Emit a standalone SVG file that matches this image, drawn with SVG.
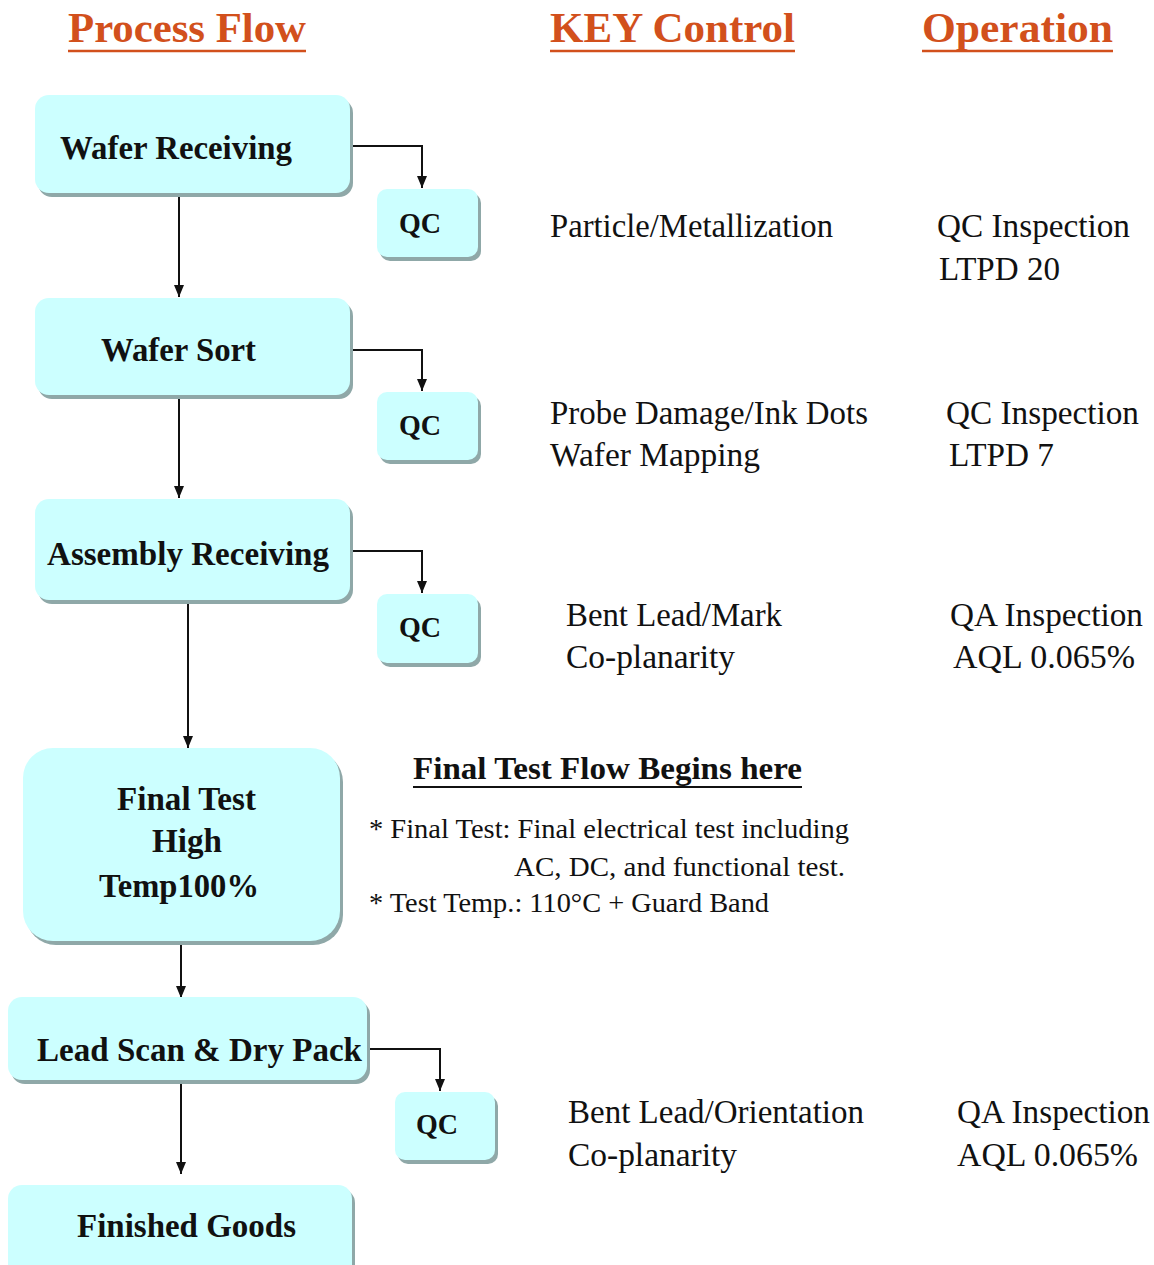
<svg xmlns="http://www.w3.org/2000/svg" width="1154" height="1265" viewBox="0 0 1154 1265">
  <style>
    .title { font-family: "Liberation Serif", "Times New Roman", serif; font-weight: bold; font-size: 43px; fill: #D2501C; }
    .uline-title { stroke: #D2501C; stroke-width: 2.5; }
    .box { fill: #CCFFFF; }
    .shadow { fill: #8FA8A8; }
    .label { font-family: "Liberation Serif", "Times New Roman", serif; font-weight: bold; font-size: 33px; fill: #111; }
    .qc { font-family: "Liberation Serif", "Times New Roman", serif; font-weight: bold; font-size: 30px; fill: #111; }
    .body { font-family: "Liberation Serif", "Times New Roman", serif; font-size: 33px; fill: #111; }
    .note { font-family: "Liberation Serif", "Times New Roman", serif; font-size: 28px; fill: #111; }
    .head { font-family: "Liberation Serif", "Times New Roman", serif; font-weight: bold; font-size: 32px; fill: #111; }
    .conn { fill: none; stroke: #111; stroke-width: 2; marker-end: url(#arrow); }
  </style>
  <defs>
    <marker id="arrow" viewBox="0 0 12 10" refX="12" refY="5" markerWidth="12" markerHeight="10" markerUnits="userSpaceOnUse" orient="auto">
      <path d="M0,0 L12,5 L0,10 Z" fill="#111"/>
    </marker>
  </defs>

  <rect width="1154" height="1265" fill="#FFFFFF"/>

  <!-- column headings -->
  <g id="headings">
    <text class="title" x="68" y="42" textLength="238" lengthAdjust="spacingAndGlyphs">Process Flow</text>
    <line class="uline-title" x1="68" y1="51" x2="306" y2="51"/>
    <text class="title" x="550" y="42" textLength="245" lengthAdjust="spacingAndGlyphs">KEY Control</text>
    <line class="uline-title" x1="550" y1="51" x2="795" y2="51"/>
    <text class="title" x="922" y="42" textLength="191" lengthAdjust="spacingAndGlyphs">Operation</text>
    <line class="uline-title" x1="922" y1="51" x2="1113" y2="51"/>
  </g>

  <!-- connectors -->
  <g id="connectors">
    <path class="conn" d="M350,146 H422 V188"/>
    <path class="conn" d="M179,193 V297"/>
    <path class="conn" d="M350,350 H422 V391"/>
    <path class="conn" d="M179,395 V498"/>
    <path class="conn" d="M350,551 H422 V593"/>
    <path class="conn" d="M188,602 V748"/>
    <path class="conn" d="M181,942 V998"/>
    <path class="conn" d="M367,1049 H440 V1091"/>
    <path class="conn" d="M181,1080 V1174"/>
  </g>

  <!-- process steps -->
  <g id="wafer-receiving">
    <rect class="shadow" x="38" y="99" width="315" height="98" rx="14"/>
    <rect class="box" x="35" y="95" width="315" height="98" rx="14"/>
    <text class="label" x="60" y="159" textLength="232" lengthAdjust="spacingAndGlyphs">Wafer Receiving</text>
  </g>
  <g id="qc-1">
    <rect class="shadow" x="380" y="193" width="101" height="68" rx="10"/>
    <rect class="box" x="377" y="189" width="101" height="68" rx="10"/>
    <text class="qc" x="399" y="233" textLength="42" lengthAdjust="spacingAndGlyphs">QC</text>
  </g>

  <g id="wafer-sort">
    <rect class="shadow" x="38" y="302" width="315" height="97" rx="14"/>
    <rect class="box" x="35" y="298" width="315" height="97" rx="14"/>
    <text class="label" x="101" y="361" textLength="155" lengthAdjust="spacingAndGlyphs">Wafer Sort</text>
  </g>
  <g id="qc-2">
    <rect class="shadow" x="380" y="396" width="101" height="68" rx="10"/>
    <rect class="box" x="377" y="392" width="101" height="68" rx="10"/>
    <text class="qc" x="399" y="435" textLength="42" lengthAdjust="spacingAndGlyphs">QC</text>
  </g>

  <g id="assembly-receiving">
    <rect class="shadow" x="38" y="503" width="315" height="101" rx="14"/>
    <rect class="box" x="35" y="499" width="315" height="101" rx="14"/>
    <text class="label" x="47" y="565" textLength="282" lengthAdjust="spacingAndGlyphs">Assembly  Receiving</text>
  </g>
  <g id="qc-3">
    <rect class="shadow" x="380" y="598" width="101" height="69" rx="10"/>
    <rect class="box" x="377" y="594" width="101" height="69" rx="10"/>
    <text class="qc" x="399" y="637" textLength="42" lengthAdjust="spacingAndGlyphs">QC</text>
  </g>

  <g id="final-test">
    <rect class="shadow" x="26" y="752" width="317" height="193" rx="30"/>
    <rect class="box" x="23" y="748" width="317" height="193" rx="30"/>
    <text class="label" x="117" y="810" textLength="139" lengthAdjust="spacingAndGlyphs">Final Test</text>
    <text class="label" x="152" y="852" textLength="70" lengthAdjust="spacingAndGlyphs">High</text>
    <text class="label" x="99" y="897" textLength="160" lengthAdjust="spacingAndGlyphs">Temp100%</text>
  </g>

  <g id="lead-scan-dry-pack">
    <rect class="shadow" x="11" y="1001" width="359" height="83" rx="14"/>
    <rect class="box" x="8" y="997" width="359" height="83" rx="14"/>
    <text class="label" x="37" y="1061" textLength="325" lengthAdjust="spacingAndGlyphs">Lead Scan &amp; Dry Pack</text>
  </g>
  <g id="qc-4">
    <rect class="shadow" x="398" y="1096" width="100" height="68" rx="10"/>
    <rect class="box" x="395" y="1092" width="100" height="68" rx="10"/>
    <text class="qc" x="416" y="1134" textLength="42" lengthAdjust="spacingAndGlyphs">QC</text>
  </g>

  <g id="finished-goods">
    <rect class="shadow" x="11" y="1189" width="344" height="100" rx="14"/>
    <rect class="box" x="8" y="1185" width="344" height="100" rx="14"/>
    <text class="label" x="77" y="1237" textLength="219" lengthAdjust="spacingAndGlyphs">Finished  Goods</text>
  </g>

  <!-- key controls and operations -->
  <g id="controls">
    <text class="body" x="550" y="237" textLength="283" lengthAdjust="spacingAndGlyphs">Particle/Metallization</text>
    <text class="body" x="937" y="237" textLength="193" lengthAdjust="spacingAndGlyphs">QC Inspection</text>
    <text class="body" x="939" y="280" textLength="121" lengthAdjust="spacingAndGlyphs">LTPD 20</text>

    <text class="body" x="550" y="424" textLength="318" lengthAdjust="spacingAndGlyphs">Probe Damage/Ink Dots</text>
    <text class="body" x="550" y="466" textLength="210" lengthAdjust="spacingAndGlyphs">Wafer Mapping</text>
    <text class="body" x="946" y="424" textLength="193" lengthAdjust="spacingAndGlyphs">QC Inspection</text>
    <text class="body" x="949" y="466" textLength="105" lengthAdjust="spacingAndGlyphs">LTPD  7</text>

    <text class="body" x="566" y="626" textLength="216" lengthAdjust="spacingAndGlyphs">Bent Lead/Mark</text>
    <text class="body" x="566" y="668" textLength="169" lengthAdjust="spacingAndGlyphs">Co-planarity</text>
    <text class="body" x="950" y="626" textLength="193" lengthAdjust="spacingAndGlyphs">QA Inspection</text>
    <text class="body" x="953" y="668" textLength="182" lengthAdjust="spacingAndGlyphs">AQL 0.065%</text>

    <text class="body" x="568" y="1123" textLength="296" lengthAdjust="spacingAndGlyphs">Bent Lead/Orientation</text>
    <text class="body" x="568" y="1166" textLength="169" lengthAdjust="spacingAndGlyphs">Co-planarity</text>
    <text class="body" x="957" y="1123" textLength="193" lengthAdjust="spacingAndGlyphs">QA Inspection</text>
    <text class="body" x="957" y="1166" textLength="181" lengthAdjust="spacingAndGlyphs">AQL 0.065%</text>
  </g>

  <!-- final test notes -->
  <g id="final-test-notes">
    <text class="head" x="413" y="779" textLength="389" lengthAdjust="spacingAndGlyphs">Final Test Flow Begins here</text>
    <line x1="413" y1="787" x2="802" y2="787" stroke="#111" stroke-width="2"/>
    <text class="note" x="369" y="838" textLength="480" lengthAdjust="spacingAndGlyphs">* Final Test: Final electrical test including</text>
    <text class="note" x="514" y="876" textLength="331" lengthAdjust="spacingAndGlyphs">AC, DC, and functional test.</text>
    <text class="note" x="369" y="912" textLength="400" lengthAdjust="spacingAndGlyphs">* Test Temp.: 110°C + Guard Band</text>
  </g>
</svg>
